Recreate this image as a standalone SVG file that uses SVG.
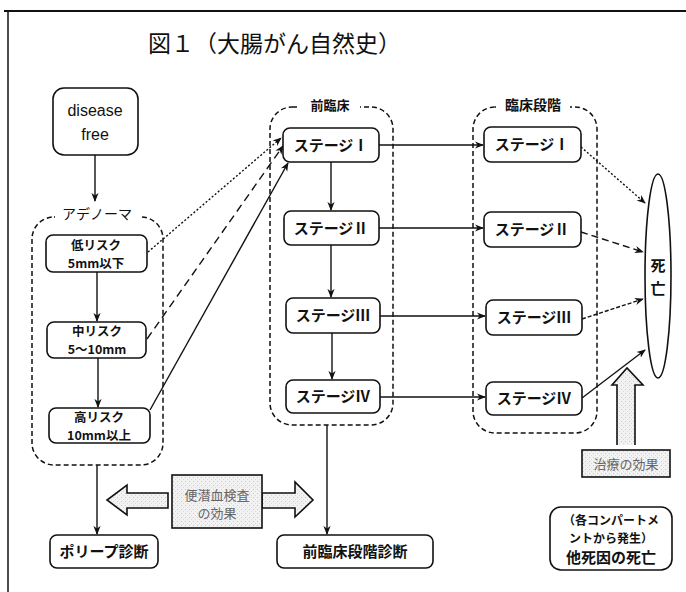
<svg xmlns="http://www.w3.org/2000/svg" width="686" height="592" viewBox="0 0 686 592">
<style>
text{font-family:"Noto Sans CJK JP","Liberation Sans",sans-serif;fill:#111}
.box{fill:#fff;stroke:#111;stroke-width:1.6}
.grp{fill:none;stroke:#111;stroke-width:1.5;stroke-dasharray:5,3}
.lbl{font-size:14px;font-weight:bold;text-anchor:middle}
.stg{font-size:15px;font-weight:bold;text-anchor:middle}
.rsk{font-size:12.5px;font-weight:bold;text-anchor:middle}
.sm{font-size:12px;font-weight:bold;text-anchor:middle}
.ln{fill:none;stroke:#111;stroke-width:1.4}
.gray{fill:url(#stip);stroke:#111;stroke-width:1.6}
.gt{font-size:13px;fill:#666;text-anchor:middle}
</style>
<defs>
<marker id="ah" viewBox="0 0 10 10" refX="9" refY="5" markerWidth="9" markerHeight="9" markerUnits="userSpaceOnUse" orient="auto">
<path d="M0,1 L10,5 L0,9 L3,5 z" fill="#111"/>
</marker>
<pattern id="stip" width="4" height="4" patternUnits="userSpaceOnUse">
<rect width="4" height="4" fill="#f2f2f2"/>
<rect x="1" y="1" width="1" height="1" fill="#c8c8c8"/>
<rect x="3" y="3" width="1" height="1" fill="#d8d8d8"/>
</pattern>
</defs>

<g id="frame">
<line x1="4" y1="11" x2="686" y2="11" stroke="#111" stroke-width="2"/>
<line x1="8" y1="11" x2="8" y2="592" stroke="#111" stroke-width="1.5"/>
</g>

<g id="title">
<text x="148" y="52" style="font-size:23px">図１（大腸がん自然史）</text>
</g>

<g id="groups">
<rect class="grp" x="32" y="217" width="131" height="248" rx="22"/>
<rect x="55" y="205" width="84" height="20" fill="#fff"/>
<text x="97" y="219" style="font-size:14px" text-anchor="middle">アデノーマ</text>
<rect class="grp" x="270" y="107" width="123" height="318" rx="22"/>
<rect x="300" y="96" width="60" height="20" fill="#fff"/>
<text class="lbl" x="330" y="110" style="font-size:13px">前臨床</text>
<rect class="grp" x="473" y="107" width="124" height="326" rx="22"/>
<rect x="496" y="96" width="74" height="20" fill="#fff"/>
<text class="lbl" x="533" y="110">臨床段階</text>
</g>

<g id="connectors">
<line class="ln" x1="95" y1="155" x2="95" y2="201" marker-end="url(#ah)"/>
<line class="ln" x1="97" y1="272" x2="97" y2="321" marker-end="url(#ah)"/>
<line class="ln" x1="98" y1="358" x2="98" y2="407" marker-end="url(#ah)"/>
<line class="ln" x1="148" y1="252" x2="281" y2="138" stroke-dasharray="2,2" marker-end="url(#ah)"/>
<line class="ln" x1="147" y1="339" x2="283" y2="146" stroke-dasharray="8,5" marker-end="url(#ah)"/>
<line class="ln" x1="150" y1="410" x2="288" y2="163" marker-end="url(#ah)"/>
<line class="ln" x1="331" y1="162" x2="331" y2="210" marker-end="url(#ah)"/>
<line class="ln" x1="331" y1="245" x2="331" y2="297" marker-end="url(#ah)"/>
<line class="ln" x1="332" y1="333" x2="332" y2="379" marker-end="url(#ah)"/>
<line class="ln" x1="379" y1="145" x2="483" y2="145" marker-end="url(#ah)"/>
<line class="ln" x1="379" y1="228" x2="483" y2="228" marker-end="url(#ah)"/>
<line class="ln" x1="380" y1="316" x2="485" y2="316" marker-end="url(#ah)"/>
<line class="ln" x1="380" y1="397" x2="485" y2="397" marker-end="url(#ah)"/>
<line class="ln" x1="581" y1="147" x2="645" y2="203" stroke-dasharray="2,2" marker-end="url(#ah)"/>
<line class="ln" x1="581" y1="232" x2="643" y2="252" stroke-dasharray="7,4" marker-end="url(#ah)"/>
<line class="ln" x1="582" y1="319" x2="643" y2="299" stroke-dasharray="4,2" marker-end="url(#ah)"/>
<line class="ln" x1="582" y1="398" x2="645" y2="350" marker-end="url(#ah)"/>
<line class="ln" x1="97" y1="465" x2="97" y2="534" marker-end="url(#ah)"/>
<line class="ln" x1="327" y1="425" x2="327" y2="534" marker-end="url(#ah)"/>
</g>

<g id="n-disease-free">
<rect class="box" x="53" y="88" width="85" height="67" rx="11"/>
<text x="95" y="116" style="font-size:16px;font-family:'Liberation Sans',sans-serif" text-anchor="middle">disease</text>
<text x="95" y="140" style="font-size:16px;font-family:'Liberation Sans',sans-serif" text-anchor="middle">free</text>
</g>

<g id="n-low">
<rect class="box" x="46" y="235" width="101" height="37" rx="7"/>
<text class="rsk" x="96" y="250">低リスク</text>
<text class="rsk" x="96" y="268">5mm以下</text>
</g>
<g id="n-mid">
<rect class="box" x="47" y="322" width="99" height="36" rx="7"/>
<text class="rsk" x="97" y="336">中リスク</text>
<text class="rsk" x="97" y="354">5～10mm</text>
</g>
<g id="n-high">
<rect class="box" x="49" y="408" width="101" height="35" rx="7"/>
<text class="rsk" x="99" y="422">高リスク</text>
<text class="rsk" x="99" y="440">10mm以上</text>
</g>

<g id="n-pre1"><rect class="box" x="283" y="128" width="96" height="34" rx="7"/><text class="stg" x="331" y="151">ステージⅠ</text></g>
<g id="n-pre2"><rect class="box" x="284" y="211" width="95" height="34" rx="7"/><text class="stg" x="331" y="234">ステージⅡ</text></g>
<g id="n-pre3"><rect class="box" x="286" y="298" width="94" height="35" rx="7"/><text class="stg" x="333" y="321">ステージⅢ</text></g>
<g id="n-pre4"><rect class="box" x="286" y="380" width="94" height="33" rx="7"/><text class="stg" x="333" y="402">ステージⅣ</text></g>

<g id="n-cl1"><rect class="box" x="484" y="127" width="97" height="35" rx="7"/><text class="stg" x="532" y="150">ステージⅠ</text></g>
<g id="n-cl2"><rect class="box" x="484" y="212" width="97" height="35" rx="7"/><text class="stg" x="532" y="235">ステージⅡ</text></g>
<g id="n-cl3"><rect class="box" x="486" y="300" width="96" height="35" rx="7"/><text class="stg" x="534" y="323">ステージⅢ</text></g>
<g id="n-cl4"><rect class="box" x="486" y="382" width="96" height="33" rx="7"/><text class="stg" x="534" y="404">ステージⅣ</text></g>

<g id="n-death">
<ellipse class="box" cx="658" cy="276" rx="13" ry="102"/>
<text class="stg" x="658" y="271">死</text>
<text class="stg" x="658" y="294">亡</text>
</g>

<g id="n-treatment">
<path class="gray" d="M617,445 L617,385 L612,385 L627,368 L643,385 L635,385 L635,445"/>
<rect class="gray" x="582" y="450" width="88" height="27"/>
<text class="gt" x="626" y="469">治療の効果</text>
</g>

<g id="n-fobt">
<path class="gray" d="M168,493 L127,493 L127,485 L107,500 L127,515 L127,508 L168,508 z"/>
<path class="gray" d="M262,493 L295,493 L295,482 L313,500 L295,517 L295,508 L262,508 z"/>
<rect class="gray" x="172" y="475" width="90" height="53"/>
<text class="gt" x="217" y="500">便潜血検査</text>
<text class="gt" x="217" y="518">の効果</text>
</g>

<g id="n-polyp">
<rect class="box" x="50" y="535" width="108" height="33" rx="7"/>
<text class="stg" x="104" y="557">ポリープ診断</text>
</g>
<g id="n-prediag">
<rect class="box" x="277" y="535" width="156" height="33" rx="7"/>
<text class="stg" x="355" y="557">前臨床段階診断</text>
</g>

<g id="n-other">
<rect class="box" x="550" y="507" width="122" height="63" rx="11"/>
<text class="sm" x="611" y="525">（各コンパートメ</text>
<text class="sm" x="611" y="543">ントから発生）</text>
<text class="stg" x="611" y="563">他死因の死亡</text>
</g>
</svg>
